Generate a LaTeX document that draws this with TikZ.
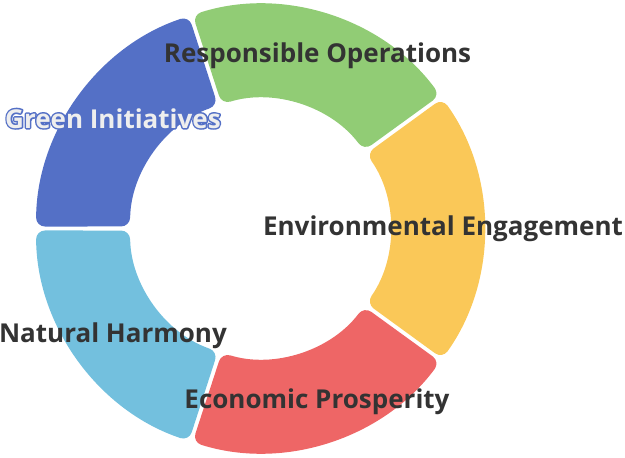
\documentclass[tikz,border=0pt]{standalone}
\usepackage{fontspec}
\setmainfont{Open Sans}
\usetikzlibrary{calc}
\definecolor{cblue}{HTML}{5470C6}
\definecolor{cgreen}{HTML}{91CC75}
\definecolor{cyellow}{HTML}{FAC858}
\definecolor{cred}{HTML}{EE6666}
\definecolor{clblue}{HTML}{73C0DE}
\definecolor{ctext}{HTML}{333333}
\definecolor{cpale}{HTML}{EEEEEE}
\newcommand{\Rout}{224pt}
\newcommand{\Rin}{130pt}
% segment: color, start angle, end angle (ccw), name
\newcommand{\donutseg}[4]{%
  \fill[#1, rounded corners=9pt]
    ([shift={(#3-0.5:\Rout)}]C) coordinate (#4)
    arc[start angle=#3-0.5, end angle=#2+0.5, radius=\Rout]
    -- ([shift={(#2+0.9:\Rin)}]C)
    arc[start angle=#2+0.9, end angle=#3-0.9, radius=\Rin]
    -- cycle;}
\newcommand{\outlinedtext}[1]{%
  \makebox[0pt][l]{\color{cblue}\special{pdf:literal direct 2 Tr 3 w 1 j}#1\special{pdf:literal direct 0 Tr}}%
  {\color{cpale}#1}}
\tikzset{
  lbl/.style={font=\bfseries\fontsize{26}{30}\selectfont, text=ctext, anchor=base, inner sep=0pt},
}
\begin{document}
\begin{tikzpicture}[x=1pt,y=-1pt]
\useasboundingbox (0,0) rectangle (625,458);
\coordinate (C) at (260,228.5);
\donutseg{cblue}{108}{180}{sblue}
\donutseg{cgreen}{36}{108}{sgreen}
\donutseg{cyellow}{-36}{36}{syellow}
\donutseg{cred}{-108}{-36}{sred}
\donutseg{clblue}{180}{252}{slblue}
% labels
\node[lbl] (lro) at (317.5,62) {Responsible Operations};
\node[lbl] (lee) at (443,235) {Environmental Engagement};
\node[lbl] (lnh) at (113,342) {Natural Harmony};
\node[lbl] (lep) at (317,408) {Economic Prosperity};
\node[lbl] (lgi) at (113,128) {\outlinedtext{Green Initiatives}};
\end{tikzpicture}
\end{document}
